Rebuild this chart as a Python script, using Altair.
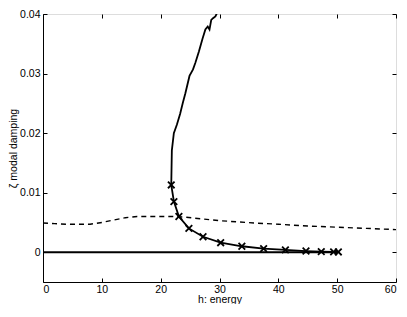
import altair as alt
import pandas as pd

# dashed curve
dash_x = [0, 2, 4, 6, 8, 10, 12, 14, 16, 18, 20, 22, 24, 27, 30, 33, 36, 40, 45, 50, 55, 60]
dash_y = [0.0049, 0.0048, 0.0047, 0.0047, 0.0047, 0.0050, 0.0054, 0.0058, 0.0060, 0.0060,
          0.0060, 0.0060, 0.0059, 0.0056, 0.0053, 0.0051, 0.0049, 0.0047, 0.0044, 0.0042,
          0.0040, 0.0038]

# zero branch
zero_x = [0, 10, 20, 30, 40, 50]
zero_y = [0, 0, 0, 0, 0, 0]

# branch with markers
marker_x = [21.8, 22.25, 23.1, 24.8, 27.2, 30.2, 33.8, 37.5, 41.2, 44.7, 47.3, 49.4, 50.2]
marker_y = [0.0113, 0.0085, 0.0060, 0.0040, 0.0026, 0.0016, 0.0010, 0.0006, 0.0004,
            0.0002, 0.0001, 0.00006, 0.00005]

# upper continuation of the branch (clipped at 0.04)
upper_x = [29.6, 29.3, 28.9, 28.6, 28.3, 28.0, 27.6, 27.1, 26.5, 25.9, 25.5, 24.9, 24.2,
           23.77, 23.3, 22.75, 22.24, 21.9]
upper_y = [0.0402, 0.0396, 0.0393, 0.0390, 0.0374, 0.0379, 0.0374, 0.0358, 0.0337, 0.0318,
           0.0307, 0.0296, 0.0267, 0.0251, 0.0232, 0.0214, 0.0200, 0.0171]

x_ticks = [0, 10, 20, 30, 40, 50, 60]
y_ticks = [0, 0.01, 0.02, 0.03, 0.04]

W, H = 353, 268

dash_df = pd.DataFrame({"x": dash_x, "y": dash_y})
zero_df = pd.DataFrame({"x": zero_x, "y": zero_y})
branch_x = upper_x + marker_x
branch_y = upper_y + marker_y
branch_df = pd.DataFrame({"x": branch_x, "y": branch_y, "o": list(range(len(branch_x)))})
marker_df = pd.DataFrame({"x": marker_x, "y": marker_y})

xs = alt.Scale(domain=[0, 60], nice=False, zero=False)
ys = alt.Scale(domain=[-0.005, 0.04], nice=False, zero=False)

font = "Liberation Sans"

main_x_axis = alt.Axis(values=x_ticks, title="h: energy", tickSize=0, labelPadding=2,
                       domainColor="black", labelFontSize=10.5, titleFontSize=10.5,
                       titleFontWeight="normal", titlePadding=0, grid=False,
                       labelFont=font, titleFont=font, labelColor="black", titleColor="black")
main_y_axis = alt.Axis(values=y_ticks, title="ζ modal damping", tickSize=0, labelPadding=3,
                       domainColor="black", labelFontSize=10.5, titleFontSize=10.5,
                       titleFontWeight="normal", titlePadding=1, grid=False, format="~g",
                       labelFont=font, titleFont=font, labelColor="black", titleColor="black")

def tick_axis(values, orient, offset):
    return alt.Axis(values=values, orient=orient, offset=offset, labels=False, title=None,
                    domain=False, ticks=True, tickSize=4, tickColor="black", grid=False)

dash = alt.Chart(dash_df).mark_line(color="black", strokeWidth=1.4, strokeDash=[5, 4], clip=True).encode(
    x=alt.X("x:Q", scale=xs, axis=main_x_axis),
    y=alt.Y("y:Q", scale=ys, axis=main_y_axis),
)

zero = alt.Chart(zero_df).mark_line(color="black", strokeWidth=2, clip=True).encode(
    x=alt.X("x:Q", scale=xs, axis=tick_axis(x_ticks, "top", -H)),
    y=alt.Y("y:Q", scale=ys, axis=tick_axis(y_ticks, "right", -W)),
)

branch = alt.Chart(branch_df).mark_line(color="black", strokeWidth=1.8, clip=True).encode(
    x=alt.X("x:Q", scale=xs, axis=tick_axis(x_ticks, "bottom", -H)),
    y=alt.Y("y:Q", scale=ys, axis=tick_axis(y_ticks, "left", -W)),
    order="o:Q",
)

markers = alt.Chart(marker_df).mark_point(
    shape="M-1,-1L1,1M-1,1L1,-1", filled=False, color="black", strokeWidth=1.8, size=44,
    opacity=1, clip=True
).encode(
    x=alt.X("x:Q", scale=xs, axis=None),
    y=alt.Y("y:Q", scale=ys, axis=None),
)

chart = alt.layer(dash, zero, branch, markers).resolve_axis(
    x="independent", y="independent"
).properties(
    width=W, height=H,
    autosize=alt.AutoSizeParams(type="none"),
    padding={"left": 35, "top": 6, "right": 3, "bottom": 22},
).configure_view(stroke="black", strokeWidth=1).configure(background="white")

chart.save("out.html", embed_options={"renderer": "svg", "actions": False})
